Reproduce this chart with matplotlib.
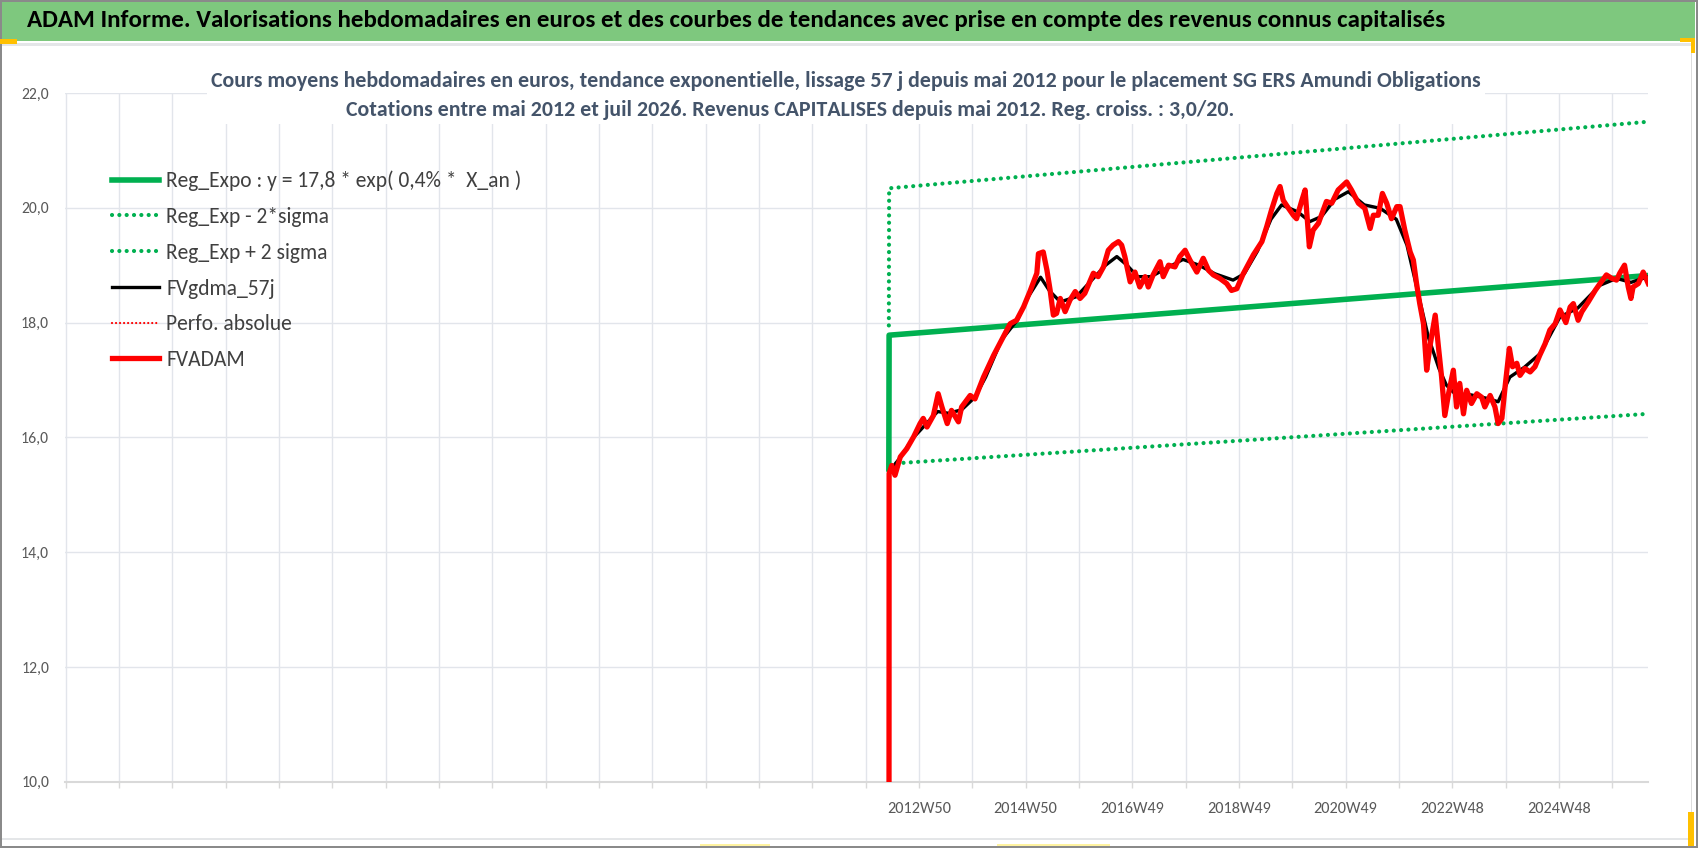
import matplotlib
matplotlib.use("Agg")
import matplotlib.pyplot as plt
from matplotlib import font_manager
from matplotlib.patches import Rectangle

# ---- data (x in decimal years) ----
header_text = ("ADAM Informe. Valorisations hebdomadaires en euros et des courbes de tendances "
               "avec prise en compte des revenus connus capitalisés")
title_line1 = ("Cours moyens hebdomadaires en euros, tendance exponentielle, lissage 57 j depuis mai 2012 "
               "pour le placement SG ERS Amundi Obligations")
title_line2 = ("Cotations entre mai 2012 et juil 2026. Revenus CAPITALISES depuis mai 2012. "
               "Reg. croiss. : 3,0/20.")

tick_years = [2012.95, 2014.95, 2016.95, 2018.95, 2020.95, 2022.95, 2024.95]
tick_labels = ["2012W50", "2014W50", "2016W49", "2018W49", "2020W49", "2022W48", "2024W48"]
y_ticks = [10, 12, 14, 16, 18, 20, 22]

reg_years = [2012.385, 2012.39, 2026.625]
reg_expo = [15.45, 17.78, 18.82]
reg_low = [15.54, 15.54, 16.41]
reg_high = [17.95, 20.34, 21.50]

perf_years = []
perf_vals = []

ma_years = [2012.39, 2012.6, 2012.85, 2013.1, 2013.3, 2013.5, 2013.75, 2014.0, 2014.2, 2014.5,
            2014.8, 2015.0, 2015.23, 2015.4, 2015.6, 2015.9, 2016.2, 2016.45, 2016.66, 2016.85,
            2017.05, 2017.3, 2017.6, 2017.9, 2018.2, 2018.5, 2018.84, 2019.05, 2019.3, 2019.55,
            2019.75, 2020.05, 2020.28, 2020.5, 2020.75, 2021.0, 2021.3, 2021.6, 2021.9, 2022.1,
            2022.3, 2022.5, 2022.7, 2022.84, 2023.0, 2023.3, 2023.6, 2023.81, 2024.03, 2024.3,
            2024.6, 2024.97, 2025.3, 2025.72, 2026.03, 2026.3, 2026.625]
ma_vals = [15.40, 15.65, 16.00, 16.25, 16.45, 16.42, 16.48, 16.70, 17.05, 17.70,
           18.05, 18.45, 18.79, 18.55, 18.36, 18.45, 18.75, 19.00, 19.15, 19.00,
           18.80, 18.80, 18.95, 19.10, 19.00, 18.85, 18.74, 18.85, 19.25, 19.80,
           20.05, 19.93, 19.76, 19.85, 20.15, 20.28, 20.05, 19.99, 19.80, 19.35,
           18.55, 17.75, 17.20, 16.91, 16.76, 16.74, 16.68, 16.62, 17.05, 17.22,
           17.46, 18.10, 18.25, 18.65, 18.77, 18.70, 18.80]

adam_years = [2012.385, 2012.39, 2012.44, 2012.50, 2012.60, 2012.72, 2012.85, 2012.97, 2013.03, 2013.10,
              2013.22, 2013.31, 2013.38, 2013.48, 2013.56, 2013.69, 2013.75, 2013.91, 2014.00, 2014.16,
              2014.35, 2014.53, 2014.66, 2014.78, 2014.91, 2015.03, 2015.16, 2015.19, 2015.28, 2015.35,
              2015.41, 2015.47, 2015.53, 2015.60, 2015.69, 2015.78, 2015.88, 2015.97, 2016.06, 2016.22,
              2016.31, 2016.41, 2016.50, 2016.59, 2016.69, 2016.75, 2016.81, 2016.91, 2017.00, 2017.09,
              2017.19, 2017.25, 2017.34, 2017.47, 2017.53, 2017.63, 2017.75, 2017.84, 2017.94, 2018.03,
              2018.16, 2018.28, 2018.38, 2018.47, 2018.59, 2018.72, 2018.81, 2018.91, 2019.03, 2019.22,
              2019.38, 2019.47, 2019.56, 2019.66, 2019.72, 2019.78, 2019.88, 2019.97, 2020.03, 2020.13,
              2020.19, 2020.27, 2020.34, 2020.44, 2020.59, 2020.69, 2020.81, 2020.97, 2021.06, 2021.19,
              2021.31, 2021.41, 2021.47, 2021.56, 2021.64, 2021.72, 2021.81, 2021.91, 2021.97, 2022.06,
              2022.16, 2022.22, 2022.28, 2022.34, 2022.41, 2022.47, 2022.53, 2022.63, 2022.69, 2022.75,
              2022.81, 2022.88, 2022.97, 2023.03, 2023.09, 2023.16, 2023.22, 2023.31, 2023.41, 2023.50,
              2023.56, 2023.66, 2023.75, 2023.81, 2023.88, 2023.94, 2024.02, 2024.08, 2024.16, 2024.22,
              2024.31, 2024.41, 2024.50, 2024.59, 2024.69, 2024.78, 2024.88, 2024.97, 2025.08, 2025.16,
              2025.22, 2025.31, 2025.38, 2025.50, 2025.63, 2025.72, 2025.84, 2025.94, 2026.03, 2026.09,
              2026.18, 2026.25, 2026.30, 2026.34, 2026.44, 2026.53, 2026.625]
adam_vals = [0.0, 15.37, 15.51, 15.34, 15.66, 15.80, 16.01, 16.24, 16.33, 16.18,
             16.38, 16.76, 16.53, 16.24, 16.47, 16.27, 16.53, 16.73, 16.67, 17.05,
             17.43, 17.75, 17.98, 18.04, 18.27, 18.54, 18.86, 19.20, 19.23, 18.91,
             18.56, 18.13, 18.16, 18.42, 18.19, 18.39, 18.54, 18.42, 18.51, 18.86,
             18.80, 18.97, 19.26, 19.35, 19.41, 19.35, 19.15, 18.71, 18.88, 18.62,
             18.80, 18.62, 18.83, 19.06, 18.80, 19.00, 18.97, 19.15, 19.26, 19.09,
             18.88, 19.12, 18.91, 18.83, 18.77, 18.68, 18.56, 18.59, 18.85, 19.18,
             19.41, 19.67, 19.96, 20.25, 20.37, 20.13, 19.99, 19.87, 19.81, 20.13,
             20.31, 19.32, 19.61, 19.73, 20.11, 20.08, 20.31, 20.45, 20.31, 20.08,
             19.99, 19.64, 19.87, 19.87, 20.25, 20.08, 19.81, 20.02, 20.02, 19.61,
             19.23, 19.09, 18.68, 18.33, 17.98, 17.17, 17.58, 18.13, 17.58, 17.05,
             16.38, 16.76, 17.17, 16.53, 16.94, 16.41, 16.82, 16.59, 16.76, 16.70,
             16.53, 16.73, 16.53, 16.24, 16.33, 16.88, 17.55, 17.23, 17.29, 17.08,
             17.20, 17.14, 17.23, 17.43, 17.63, 17.87, 17.98, 18.22, 18.00, 18.27,
             18.33, 18.04, 18.19, 18.36, 18.56, 18.68, 18.83, 18.77, 18.74, 18.86,
             19.00, 18.62, 18.42, 18.62, 18.68, 18.88, 18.68]

# ---- figure setup ----
W, H, DPI = 1698, 848, 100

# pick a narrow font if there is one (the original uses Calibri)
fonts = font_manager.fontManager.ttflist
installed = {f.name for f in fonts}
FONT, STRETCH = "Liberation Sans", "normal"
for cand in ["Carlito", "Liberation Sans Narrow", "Roboto Condensed", "Open Sans Condensed",
             "Noto Sans Condensed", "DejaVu Sans Condensed"]:
    if cand in installed:
        FONT = cand
        break
else:
    for f in fonts:
        if f.name in ("Noto Sans", "Open Sans", "Roboto") and str(f.stretch) in ("condensed", "semi-condensed"):
            FONT, STRETCH = f.name, f.stretch
            break
plt.rcParams["font.family"] = [FONT, "DejaVu Sans"]
plt.rcParams["font.stretch"] = STRETCH

GREEN = "#00B050"
GRID = "#E2E5EB"
LABEL = "#595959"


def fx(px):
    return px / W


def fy(py):
    return 1 - py / H


def prect(x0, y0, x1, y1, color, z=1):
    fig.add_artist(Rectangle((fx(x0), fy(y1)), fx(x1) - fx(x0), fy(y0) - fy(y1),
                             transform=fig.transFigure, facecolor=color,
                             edgecolor="none", zorder=z))


fig = plt.figure(figsize=(W / DPI, H / DPI), dpi=DPI)
fig.patch.set_facecolor("white")
ax = fig.add_axes([fx(65), fy(781.7), fx(1648) - fx(65), fy(93) - fy(781.7)])
fig.canvas.draw()
rend = fig.canvas.get_renderer()


def size_for(text, width_px, weight="normal"):
    # font size that gives the text the wanted width in pixels
    t = fig.text(0, 0, text, fontsize=20, fontweight=weight)
    w = t.get_window_extent(rend).width
    t.remove()
    return 20 * width_px / w


# frame decorations (excel sheet look)
prect(2, 2, 1695, 41, "#7EC87E")
prect(2, 43.5, 1695, 45.5, "#E4E6E8")
prect(1690.5, 45, 1692, 840, "#DDDDDD")
prect(2, 838, 1692, 839.5, "#E4E6E8")
prect(0, 0, W, 1.5, "#8A8A8A")
prect(0, 0, 2, H, "#8A8A8A")
prect(0, 846, W, H, "#8A8A8A")
prect(1696, 0, W, H, "#8A8A8A")
prect(0, 39, 17, 44, "#FFC000", 3)
prect(1680, 38, 1695, 42, "#FFC000", 3)
prect(1691, 38, 1695, 53, "#FFC000", 3)
prect(1688, 812, 1694, 846, "#FFC000", 3)
prect(700, 843.5, 770, 846, "#FFF3A0", 3)
prect(997, 843.5, 1110, 846, "#FFF3A0", 3)

# ---- series ----
dots = (0, (0.01, 1.75))
ax.plot(reg_years, reg_low, color=GREEN, lw=3.0, linestyle=dots,
        dash_capstyle="round", label="Reg_Exp - 2*sigma", zorder=3)
ax.plot(reg_years, reg_high, color=GREEN, lw=3.0, linestyle=dots,
        dash_capstyle="round", label="Reg_Exp + 2 sigma", zorder=3)
ax.plot(reg_years, reg_expo, color=GREEN, lw=4.0,
        label="Reg_Expo : y = 17,8 * exp( 0,4% *  X_an )", zorder=4)
ax.plot(perf_years, perf_vals, color="#FF0000", lw=1.6, linestyle=(0, (0.01, 1.8)),
        dash_capstyle="round", label="Perfo. absolue", zorder=4)
ax.plot(ma_years, ma_vals, color="black", lw=2.4, label="FVgdma_57j", zorder=5)
ax.plot(adam_years, adam_vals, color="#FF0000", lw=3.8, label="FVADAM", zorder=6)

# ---- axes styling ----
ax.set_xlim(1996.937, 2026.62)
ax.set_ylim(10, 22)
grid_years = [tick_years[0] + k for k in range(-16, 14)]
ax.set_xticks(grid_years)
ax.set_xticklabels([tick_labels[tick_years.index(g)] if g in tick_years else "" for g in grid_years])
ax.set_yticks(y_ticks)
ax.set_yticklabels([f"{v:.1f}".replace(".", ",") for v in y_ticks])
ax.tick_params(axis="x", length=4.5, width=1, color="#D9D9D9", labelcolor=LABEL,
               labelsize=size_for("2012W50", 64), pad=10)
ax.tick_params(axis="y", length=0, labelcolor=LABEL,
               labelsize=size_for("22,0", 28), pad=11.5)
for side in ["top", "right", "left"]:
    ax.spines[side].set_visible(False)
ax.spines["bottom"].set_color("#D9D9D9")
ax.spines["bottom"].set_linewidth(1.5)
ax.grid(True, color=GRID, lw=1.0)
ax.set_axisbelow(True)

# ---- legend ----
handles, labels = ax.get_legend_handles_labels()
order = ["Reg_Expo : y = 17,8 * exp( 0,4% *  X_an )", "Reg_Exp - 2*sigma", "Reg_Exp + 2 sigma",
         "FVgdma_57j", "Perfo. absolue", "FVADAM"]
hmap = dict(zip(labels, handles))
leg_fs = min(size_for("FVgdma_57j", 109), 16.5)
fs_px = leg_fs * DPI / 72


def make_legend(ls, top):
    lg = ax.legend([hmap[k] for k in order], order, loc="upper left",
                   bbox_to_anchor=(fx(112), fy(top)), bbox_transform=fig.transFigure,
                   frameon=False, fontsize=leg_fs, handlelength=46.7 / fs_px,
                   handletextpad=7.3 / fs_px, labelspacing=ls, borderpad=0, borderaxespad=0)
    for t in lg.get_texts():
        t.set_color("#404040")
    return lg


def row_centers(lg):
    fig.canvas.draw()
    ext = [t.get_window_extent(rend) for t in lg.get_texts()]
    return [H - (e.y0 + e.y1) / 2 for e in ext]


ls = 0.6
leg = make_legend(ls, 166)
c = row_centers(leg)
ls += (35.8 - (c[-1] - c[0]) / 5) / fs_px
leg.remove()
leg = make_legend(ls, 166)
c = row_centers(leg)
leg.remove()
leg = make_legend(ls, 166 + 181 - c[0])

# ---- titles ----
prect(207, 58, 1485, 124, "white", 2)
fig.text(fx(27), fy(27), header_text, fontsize=size_for(header_text, 1420, "bold"),
         fontweight="bold", color="black", ha="left", va="baseline", zorder=4)
sub_fs = size_for(title_line1, 1267, "bold")
fig.text(fx(845.5), fy(87), title_line1, fontsize=sub_fs, fontweight="bold",
         color="#44546A", ha="center", va="baseline", zorder=4)
fig.text(fx(790), fy(116), title_line2, fontsize=sub_fs, fontweight="bold",
         color="#44546A", ha="center", va="baseline", zorder=4)

fig.savefig("out.png", dpi=DPI)
